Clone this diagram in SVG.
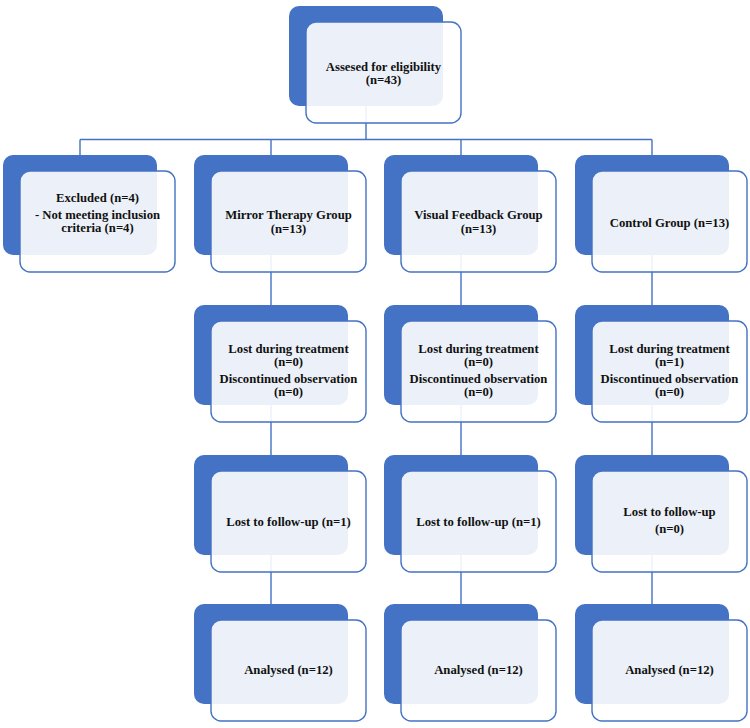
<svg xmlns="http://www.w3.org/2000/svg" width="750" height="728" viewBox="0 0 750 728">
<style>
.bk{fill:#4472C4;}
.fr{fill:#FFFFFF;fill-opacity:0.9;stroke:#4472C4;stroke-width:1.4;}
.ln{stroke:#4472C4;stroke-width:1.4;fill:none;}
text{font-family:"Liberation Serif","Times New Roman",serif;font-weight:bold;font-size:12.7px;fill:#111111;text-anchor:middle;}
</style>
<rect width="750" height="728" fill="#FFFFFF"/>
<g id="connectors">
<path class="ln" d="M366 56V139.5M80 139.5H652M80 139.5V205M271 139.5V654M461 139.5V654M652 139.5V654"/>
</g>
<g id="n-assessed">
<rect class="bk" x="289" y="6" width="154" height="100" rx="10"/>
<rect class="fr" x="306" y="22" width="155" height="101" rx="10"/>
<text x="383.5" y="71">Assesed for eligibility</text>
<text x="383.5" y="84">(n=43)</text>
</g>
<g id="n-excluded">
<rect class="bk" x="3" y="155" width="154" height="100" rx="10"/>
<rect class="fr" x="20" y="171" width="155" height="101" rx="10"/>
<text x="97.5" y="202">Excluded (n=4)</text>
<text x="97.5" y="219">- Not meeting inclusion</text>
<text x="97.5" y="232">criteria (n=4)</text>
</g>
<g id="n-mirror">
<rect class="bk" x="194" y="155" width="154" height="100" rx="10"/>
<rect class="fr" x="211" y="171" width="155" height="101" rx="10"/>
<text x="288.5" y="219">Mirror Therapy Group</text>
<text x="288.5" y="233">(n=13)</text>
</g>
<g id="n-visual">
<rect class="bk" x="384" y="155" width="154" height="100" rx="10"/>
<rect class="fr" x="401" y="171" width="155" height="101" rx="10"/>
<text x="478.5" y="219">Visual Feedback Group</text>
<text x="478.5" y="233">(n=13)</text>
</g>
<g id="n-control">
<rect class="bk" x="575" y="155" width="154" height="100" rx="10"/>
<rect class="fr" x="592" y="171" width="155" height="101" rx="10"/>
<text x="669.5" y="227">Control Group (n=13)</text>
</g>
<g id="n-mirror-lost">
<rect class="bk" x="194" y="305" width="154" height="100" rx="10"/>
<rect class="fr" x="211" y="321" width="155" height="101" rx="10"/>
<text x="288.5" y="353">Lost during treatment</text>
<text x="288.5" y="366">(n=0)</text>
<text x="288.5" y="383">Discontinued observation</text>
<text x="288.5" y="396">(n=0)</text>
</g>
<g id="n-visual-lost">
<rect class="bk" x="384" y="305" width="154" height="100" rx="10"/>
<rect class="fr" x="401" y="321" width="155" height="101" rx="10"/>
<text x="478.5" y="353">Lost during treatment</text>
<text x="478.5" y="366">(n=0)</text>
<text x="478.5" y="383">Discontinued observation</text>
<text x="478.5" y="396">(n=0)</text>
</g>
<g id="n-control-lost">
<rect class="bk" x="575" y="305" width="154" height="100" rx="10"/>
<rect class="fr" x="592" y="321" width="155" height="101" rx="10"/>
<text x="669.5" y="353">Lost during treatment</text>
<text x="669.5" y="366">(n=1)</text>
<text x="669.5" y="383">Discontinued observation</text>
<text x="669.5" y="396">(n=0)</text>
</g>
<g id="n-mirror-fu">
<rect class="bk" x="194" y="455" width="154" height="100" rx="10"/>
<rect class="fr" x="211" y="471" width="155" height="101" rx="10"/>
<text x="288.5" y="526">Lost to follow-up (n=1)</text>
</g>
<g id="n-visual-fu">
<rect class="bk" x="384" y="455" width="154" height="100" rx="10"/>
<rect class="fr" x="401" y="471" width="155" height="101" rx="10"/>
<text x="478.5" y="526">Lost to follow-up (n=1)</text>
</g>
<g id="n-control-fu">
<rect class="bk" x="575" y="455" width="154" height="100" rx="10"/>
<rect class="fr" x="592" y="471" width="155" height="101" rx="10"/>
<text x="669.5" y="516">Lost to follow-up</text>
<text x="669.5" y="533">(n=0)</text>
</g>
<g id="n-mirror-an">
<rect class="bk" x="194" y="604" width="154" height="100" rx="10"/>
<rect class="fr" x="211" y="620" width="155" height="101" rx="10"/>
<text x="288.5" y="674">Analysed (n=12)</text>
</g>
<g id="n-visual-an">
<rect class="bk" x="384" y="604" width="154" height="100" rx="10"/>
<rect class="fr" x="401" y="620" width="155" height="101" rx="10"/>
<text x="478.5" y="674">Analysed (n=12)</text>
</g>
<g id="n-control-an">
<rect class="bk" x="575" y="604" width="154" height="100" rx="10"/>
<rect class="fr" x="592" y="620" width="155" height="101" rx="10"/>
<text x="669.5" y="674">Analysed (n=12)</text>
</g>
</svg>
